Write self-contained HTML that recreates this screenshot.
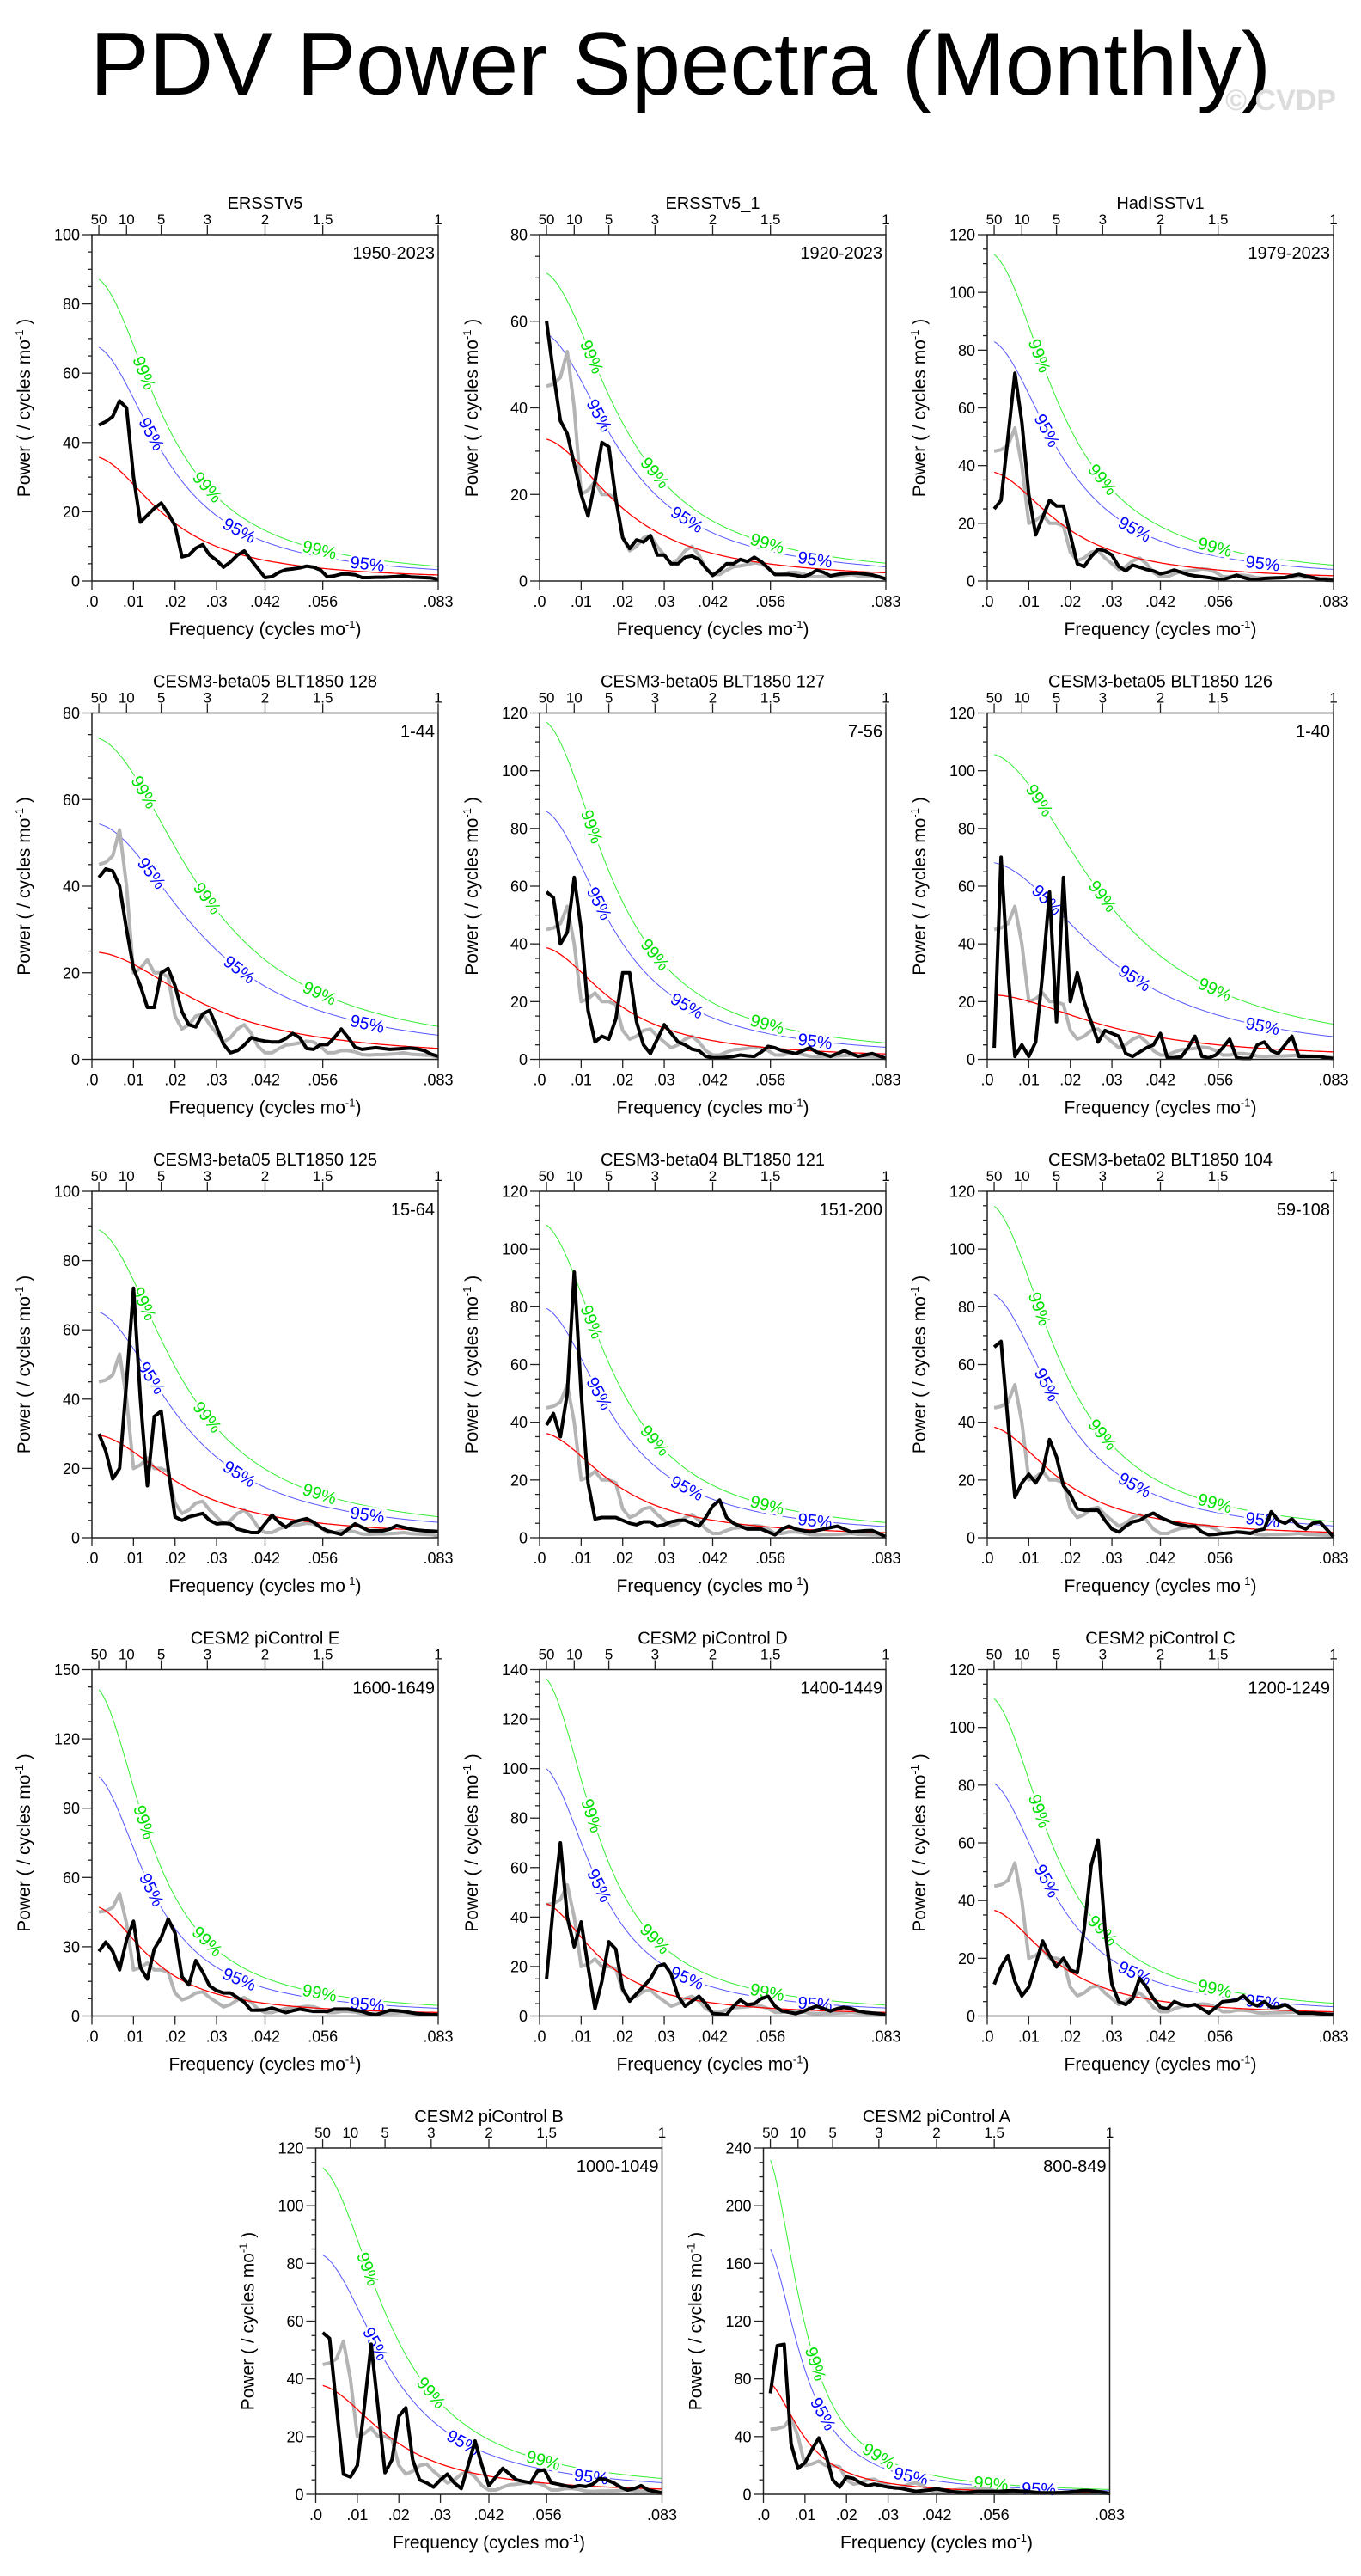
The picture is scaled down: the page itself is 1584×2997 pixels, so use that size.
<!DOCTYPE html>
<html><head><meta charset="utf-8"><title>PDV Power Spectra (Monthly)</title>
<style>html,body{margin:0;padding:0;background:#fff}svg{display:block}text{font-family:"Liberation Sans",Arial,sans-serif}</style>
</head><body>
<svg id="fig" xmlns="http://www.w3.org/2000/svg" width="1584" height="2997" viewBox="0 0 1584 2997">
<text x="105" y="110" font-size="104" textLength="1374" lengthAdjust="spacingAndGlyphs">PDV Power Spectra (Monthly)</text>
<text x="1555" y="128" font-size="34" fill="#dcdcdc" text-anchor="end" font-weight="bold">© CVDP</text>
</svg>
<script>
const harmonics = [1,2,3,4,5,6,7,8,9,10,11,12,13,14,15,16,17,18,19,20,21,22,23,24,25,26,27,28,29,30,31,32,33,34,35,36,37,38,39,40,41,42,43,44,45,46,47,48,49,50];
const obsGray = [45,45.5,47,53,40,20,21,23,20,20,19,10,7,8,10,10.5,8,6,4,5,7,8,6,3,1.5,1.5,2.5,3.3,3.5,3.8,4.2,4,3,1.5,1.5,2,2,1.7,1.1,1,1.1,1.1,1.2,1.3,1.5,1.2,1.1,1,0.9,0.5];
const specERSSTv5 = [45,46,47.5,52,50,30,17,19,21,22.5,19.5,16,7,7.5,9.5,10.5,7.5,6,4,5.5,7.5,8.7,6,3.5,1,1.3,2.5,3.3,3.5,3.8,4.3,4,3.2,1.2,1.5,2,2,1.8,1,1,1.1,1.1,1.2,1.3,1.5,1.2,1.1,1,0.9,0.5];
const specERSSTv5_1 = [60,48,37,34,27,20,15,23,32,31,19,10,7.5,9.5,9,10.5,6,6,4,4,5.5,5.8,5,3,1.3,2.5,4,4,5,4.5,5.5,4.5,3,1.5,1.5,1.5,1.3,1,1.5,2.5,2,1.2,1.5,1.7,1.8,1.8,1.6,1.4,1,0.5];
const specHadISST = [25,28,50,72,55,30,16,22,28,26,26,16,6,5,8.5,11,10.5,9,5,3.5,5.5,4.8,4,3.5,2.5,3,3.8,3,2.2,1.8,1.5,1.2,0.8,0.5,1.2,2,1.2,0.6,0.6,0.9,1,1.1,1.2,1.8,2.3,1.7,1.2,0.6,0.3,0.2];
const specB128 = [42,44,43.5,40,30,21,17,12,12,20,21,17,11,8,7.5,10.5,11.3,7.5,3.5,1.5,2,3.3,5,4.5,4.2,4,4,4.8,6,5,2.5,2.3,3.4,3.4,5,7,5,2.8,2.3,2.5,2.7,2.5,2.3,2.4,2.5,2.6,2.4,2,1.2,0.7];
const specB127 = [58,56,40,44,63,45,17,6,8,7,14,30,30,13,5,2,7,12,9,6,5,3.5,3,1,0.5,0.5,0.7,1,1.5,1.2,1,2.5,4.5,4,3,2.5,2,3,4,2.5,1.8,1,2,3,2,1,1.5,2,1.2,0.3];
const specB126 = [4,70,30,1,5,1,6,30,58,13,63,20,30,20,13,6,10,9,8,2,1,2.5,4,5,9,0.5,0.6,0.8,4,8,1,0.5,1.5,4,7,0.5,0.3,0.3,5,6,3,2,5,8,1,1,1,1,0.5,0.3];
const specB125 = [30,25,17,20,45,72,40,15,35,36.5,20,6,5,6,6.5,7,5,4,4.2,4,2.5,2,1.5,1.5,4,6.5,4.5,3,4.5,5,5.5,4.5,3,2,1.5,1,2.5,4,3,2,2,2,2.5,3.5,3,2.5,2.2,2,1.9,1.8];
const specB121 = [39,43,35,50,92,50,19,6.5,7,7,7,6,5,4.5,5.5,5.5,4,4.5,5.5,6,6,5,4,7,11,13,7,5,4,3,3,3,2,1,3,4,3,2.5,2,2.5,3,3.5,4,3,2,2.2,2.4,2.5,1.5,0.3];
const specB104 = [66,68,40,14,19,22,19,23,34,28,18,15,10,9.5,9.5,9.5,6,3,2,4,5.5,6,7.5,8.5,7,6,5,4.5,4,4,2,1,1.2,1.5,1.7,2,1.8,1.5,2.5,3,9,6,5,6.5,4,3,5,5.5,3,0.3];
const specPiE = [28,32,28,20,33,41,21,16,29,34,42,36,17,13.5,24,19,13,11,10,10,8,6,2.5,2.5,2.7,3.5,2.5,1.5,2.3,3,2.5,2,2,2,3,3,3,2.5,2,1,0.5,1.5,2.5,2.3,2,1.5,1,0.8,0.6,0.5];
const specPiD = [15,45,70,40,28,38,20,3,14,30,27,11,6,9,12,15,20,21,17,8,4,6,8,5,1,0.8,0.5,4,6.5,4.5,5,7,8,4,2,1.5,1,1.8,3,4,3,2,3,3.5,3,2,1.5,1.2,1,0.5];
const specPiC = [11,17,21,12,7,10,18,26,21,17,20,16,15,30,52,61,30,11,5,4,6,13,10,6,3,2.5,5,4,3.5,4,2.5,1,3,5,5.2,5.5,7,4.5,3.5,5,3,3,4,2.5,1,1,1,0.8,0.6,0.5];
const specPiB = [56,54,30,7,6,10,30,52,30,7.5,12,27,30,12,5,4,2.5,5,7,4,2,10,18.5,10,3,6,9,7,5,4.5,4,8,8.5,4,3.5,3,2.5,3,2.7,3.5,5.5,5,4,2.5,1.5,2,3,1.5,1,0.5];
const specPiA = [70,103,104,35,18,22,31,39,28,10,5,12,11,8,6,7,6,5,4.5,4,3,2,2.5,3,3.8,3,2,1.5,1,1.5,2,2,2,2,2.3,2.5,2.2,2,1.5,1,1,1,1.2,1.5,2,2.5,2.5,2,1.5,0.5];
const xTickValues = [0, 0.01, 0.02, 0.03, 1/24, 1/18, 1/12];
const xTickLabels = [".0", ".01", ".02", ".03", ".042", ".056", ".083"];
const periodYears = [50, 10, 5, 3, 2, 1.5, 1];
const periodLabels = ["50", "10", "5", "3", "2", "1.5", "1"];

const panels = [
 {id:"ersstv5", title:"ERSSTv5", range:"1950-2023", ymax:100, ystep:20, red0:36, r:0.89, f95:1.89, f99:2.44, spec:specERSSTv5, gray:false, col:0, row:0},
 {id:"ersstv5-1", title:"ERSSTv5_1", range:"1920-2023", ymax:80, ystep:20, red0:33, r:0.88, f95:1.74, f99:2.17, spec:specERSSTv5_1, gray:true, col:1, row:0},
 {id:"hadisstv1", title:"HadISSTv1", range:"1979-2023", ymax:120, ystep:20, red0:38, r:0.89, f95:2.2, f99:3.0, spec:specHadISST, gray:true, col:2, row:0},
 {id:"blt1850-128", title:"CESM3-beta05 BLT1850 128", range:"1-44", ymax:80, ystep:20, red0:24.8, r:0.84, f95:2.2, f99:3.0, spec:specB128, gray:true, col:0, row:1},
 {id:"blt1850-127", title:"CESM3-beta05 BLT1850 127", range:"7-56", ymax:120, ystep:20, red0:39, r:0.89, f95:2.22, f99:3.02, spec:specB127, gray:true, col:1, row:1},
 {id:"blt1850-126", title:"CESM3-beta05 BLT1850 126", range:"1-40", ymax:120, ystep:20, red0:22.4, r:0.83, f95:3.05, f99:4.73, spec:specB126, gray:true, col:2, row:1},
 {id:"blt1850-125", title:"CESM3-beta05 BLT1850 125", range:"15-64", ymax:100, ystep:20, red0:29.8, r:0.87, f95:2.2, f99:3.0, spec:specB125, gray:true, col:0, row:2},
 {id:"blt1850-121", title:"CESM3-beta04 BLT1850 121", range:"151-200", ymax:120, ystep:20, red0:36.4, r:0.89, f95:2.2, f99:3.0, spec:specB121, gray:true, col:1, row:2},
 {id:"blt1850-104", title:"CESM3-beta02 BLT1850 104", range:"59-108", ymax:120, ystep:20, red0:38.6, r:0.89, f95:2.2, f99:3.0, spec:specB104, gray:true, col:2, row:2},
 {id:"picontrol-e", title:"CESM2 piControl E", range:"1600-1649", ymax:150, ystep:30, red0:47.7, r:0.91, f95:2.2, f99:3.0, spec:specPiE, gray:true, col:0, row:3},
 {id:"picontrol-d", title:"CESM2 piControl D", range:"1400-1449", ymax:140, ystep:20, red0:46, r:0.91, f95:2.2, f99:3.0, spec:specPiD, gray:true, col:1, row:3},
 {id:"picontrol-c", title:"CESM2 piControl C", range:"1200-1249", ymax:120, ystep:20, red0:37, r:0.90, f95:2.2, f99:3.0, spec:specPiC, gray:true, col:2, row:3},
 {id:"picontrol-b", title:"CESM2 piControl B", range:"1000-1049", ymax:120, ystep:20, red0:38, r:0.89, f95:2.2, f99:3.0, spec:specPiB, gray:true, col:0.5, row:4},
 {id:"picontrol-a", title:"CESM2 piControl A", range:"800-849", ymax:240, ystep:40, red0:79.5, r:0.94, f95:2.2, f99:3.0, spec:specPiA, gray:true, col:1.5, row:4}
];

const NS = "http://www.w3.org/2000/svg";
const svg = document.getElementById("fig");
const PW = 403, PH = 403, FMAX = 1/12;
function mk(tag, attrs, parent){ const e = document.createElementNS(NS, tag); for (const k in attrs) e.setAttribute(k, attrs[k]); (parent||svg).appendChild(e); return e; }

panels.forEach(p => {
  const x0 = 107 + p.col * 521, y0 = 273 + p.row * 556.5;
  const g = mk("g", {});
  
  
  const X = f => x0 + f / FMAX * PW;
  const Y = v => y0 + PH - v / p.ymax * PH;
  const red = f => p.red0 * (1 - p.r) * (1 - p.r) / (1 - 2 * p.r * Math.cos(2 * Math.PI * f) + p.r * p.r);
  const freqs = harmonics.map(k => k / 600);

  // title
  const t = mk("text", {x: x0 + PW/2, y: y0 - 30, "font-size": 20, "text-anchor": "middle"}, g);
  t.textContent = p.title;
  
  

  // significance & red noise curves
  const N = 160;
  const curvePts = fac => { let s = ""; for (let i = 0; i <= N; i++) { const f = 0.0017 + (FMAX - 0.0017) * i / N; s += (i ? "L" : "M") + X(f).toFixed(1) + "," + Y(Math.min(red(f) * fac, p.ymax)).toFixed(1); } return s; };
  const c99 = mk("path", {d: curvePts(p.f99), fill: "none", stroke: "#33ee33", "stroke-width": 1}, g);
  
  
  const c95 = mk("path", {d: curvePts(p.f95), fill: "none", stroke: "#5555ff", "stroke-width": 1}, g);
  
  

  // labels along curves
  const lbl = (f, fac, txt, col) => {
    const v = red(f) * fac; if (v > p.ymax) return;
    const dx = X(f + 0.0008) - X(f - 0.0008), dy = Y(red(f + 0.0008) * fac) - Y(red(f - 0.0008) * fac);
    const ang = Math.atan2(dy, dx) * 180 / Math.PI;
    const tx = mk("text", {x: 0, y: 7, "font-size": 20, "text-anchor": "middle", fill: col, stroke: "#fff", "stroke-width": 6, "paint-order": "stroke",
      transform: "translate(" + X(f).toFixed(1) + "," + Y(v).toFixed(1) + ") rotate(" + ang.toFixed(1) + ")"}, g);
    tx.textContent = txt;
    
    
  };
  [0.0126, 0.0278, 0.0548].forEach(f => lbl(f, p.f99, "99%", "#00e000"));
  [0.0144, 0.0355, 0.0663].forEach(f => lbl(f, p.f95, "95%", "#0000ff"));

  // gray reference spectrum
  if (p.gray) {
    const gp = mk("path", {d: obsGray.map((v, i) => (i ? "L" : "M") + X(freqs[i]).toFixed(1) + "," + Y(v).toFixed(1)).join(""), fill: "none", stroke: "#b4b4b4", "stroke-width": 4, "stroke-linejoin": "round"}, g);
    
    
  }
  // red noise
  const rp = mk("path", {d: curvePts(1), fill: "none", stroke: "#ff0000", "stroke-width": 1.3}, g);
  
  
  // black spectrum
  const bp = mk("path", {d: p.spec.map((v, i) => (i ? "L" : "M") + X(freqs[i]).toFixed(1) + "," + Y(v).toFixed(1)).join(""), fill: "none", stroke: "#000", "stroke-width": 4, "stroke-linejoin": "round"}, g);
  
  

  // frame
  const fr = mk("rect", {x: x0, y: y0, width: PW, height: PH, fill: "none", stroke: "#222", "stroke-width": 1.5}, g);
  
  

  // y ticks
  for (let v = 0; v <= p.ymax + 1e-6; v += p.ystep / 4) {
    const major = Math.abs(v / p.ystep - Math.round(v / p.ystep)) < 1e-6;
    mk("line", {x1: x0 - (major ? 11 : 5), x2: x0, y1: Y(v), y2: Y(v), stroke: "#222", "stroke-width": 1.3}, g);
    if (major) {
      const yl = mk("text", {x: x0 - 14, y: Y(v) + 6.5, "font-size": 18, "text-anchor": "end"}, g);
      yl.textContent = String(Math.round(v));
      
      
    }
  }
  // x ticks
  xTickValues.forEach((f, i) => {
    mk("line", {x1: X(f), x2: X(f), y1: y0 + PH, y2: y0 + PH + 10, stroke: "#222", "stroke-width": 1.3}, g);
    const xl = mk("text", {x: X(f), y: y0 + PH + 30, "font-size": 18, "text-anchor": "middle"}, g);
    xl.textContent = xTickLabels[i];
    
    
  });
  // top period ticks
  periodYears.forEach((yr, i) => {
    const f = 1 / (yr * 12);
    mk("line", {x1: X(f), x2: X(f), y1: y0 - 11, y2: y0, stroke: "#222", "stroke-width": 1.3}, g);
    const pl = mk("text", {x: X(f), y: y0 - 12, "font-size": 17, "text-anchor": "middle"}, g);
    pl.textContent = periodLabels[i];
    
    
  });
  // range label
  const rl = mk("text", {x: x0 + PW - 4, y: y0 + 28, "font-size": 20, "text-anchor": "end"}, g);
  rl.textContent = p.range;
  
  
  // axis titles
  const xt = mk("text", {x: x0 + PW/2, y: y0 + PH + 63, "font-size": 21, "text-anchor": "middle"}, g);
  xt.innerHTML = 'Frequency (cycles mo<tspan dy="-8" font-size="13">-1</tspan><tspan dy="8">)</tspan>';
  
  
  const yt = mk("text", {x: 0, y: 0, "font-size": 21, "text-anchor": "middle", transform: "translate(" + (x0 - 72) + "," + (y0 + PH/2) + ") rotate(-90)"}, g);
  yt.innerHTML = 'Power ( / cycles mo<tspan dy="-8" font-size="13">-1</tspan><tspan dy="8"> )</tspan>';
  
  
});
</script>
</body></html>
